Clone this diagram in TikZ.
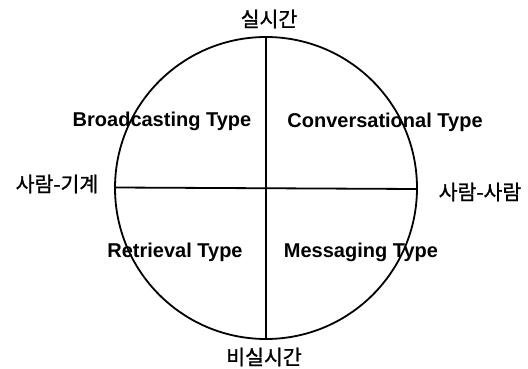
\documentclass[tikz,border=0pt]{standalone}
\usepackage{fontspec}
\setmainfont{Liberation Sans}
\newfontfamily\kr[FakeBold=1.2]{Noto Sans CJK KR}
\begin{document}
\begin{tikzpicture}[x=1pt,y=-1pt,
  eng/.style={anchor=base,inner sep=0pt,font=\bfseries\fontsize{20}{22}\selectfont},
  kor/.style={anchor=center,inner sep=0pt,font=\kr\fontsize{20.5}{22}\selectfont},
  ln/.style={line width=1.8pt}]
\useasboundingbox (0,0) rectangle (528,369);
\node[circle,draw,ln,minimum size=302pt,inner sep=0pt] (c) at (266,188) {};
\coordinate (t) at (266,38);
\coordinate (b) at (266,338);
\coordinate (l) at (115,187.5);
\coordinate (r) at (417,189);
\draw[ln] (t) -- (b);
\draw[ln] (l) -- (r);
\node[kor] (rt) at (269,19) {실시간};
\node[kor] (nrt) at (264,357) {비실시간};
\node[kor] (hm) at (57,184) {사람-기계};
\node[kor] (hh) at (480,192) {사람-사람};
\node[eng] (bt) at (162,127) {Broadcasting Type};
\node[eng] (ct) at (385,128) {Conversational Type};
\node[eng] (rv) at (175,257) {Retrieval Type};
\node[eng] (mt) at (361,257) {Messaging Type};
\end{tikzpicture}
\end{document}
